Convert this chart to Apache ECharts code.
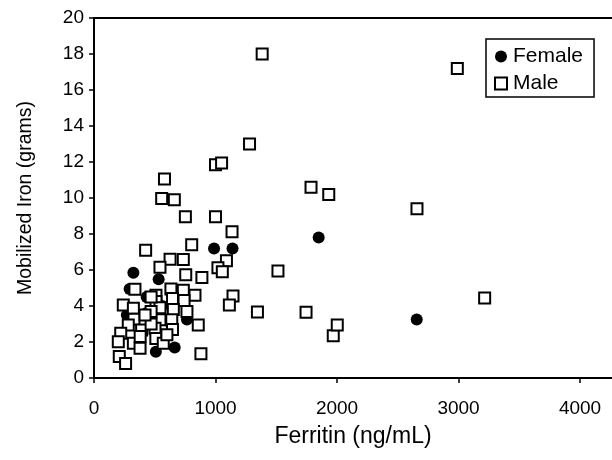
<!DOCTYPE html>
<html>
<head>
<meta charset="utf-8">
<script src="https://cdn.jsdelivr.net/npm/echarts@6/dist/echarts.min.js"></script>
<style>
html,body{margin:0;padding:0;background:#fff;}
#c{width:612px;height:460px;}
</style>
</head>
<body>
<div id="c"></div>
<script>
// ---- data ----
var femaleFerritin = [988, 1140, 1849, 2656, 324, 532, 293, 765, 509, 664, 430, 433, 270, 560];
var femaleIron     = [7.2, 7.2, 7.8, 3.25, 5.85, 5.48, 4.95, 3.25, 1.46, 1.7, 3.6, 4.5, 3.5, 4.0];

var maleFerritin = [1384, 2990, 1280, 1000, 1050, 580, 557, 661, 752, 1000, 1136, 1786, 1932, 2658,
  804, 425, 1514, 3215, 1345, 1745, 1969, 2002, 1090, 1020, 1056, 626, 735, 543, 755, 888, 1144, 1114,
  337, 880,
  510, 510, 633, 735, 831, 741, 646, 241, 324, 543, 653, 765, 329, 543, 640, 858, 282, 392, 502, 646,
  220, 200, 324, 379, 509, 570, 208, 260, 470, 470, 470, 420, 600, 380];
var maleIron = [18.0, 17.2, 13.0, 11.85, 11.95, 11.05, 9.97, 9.9, 8.96, 8.96, 8.13, 10.6, 10.2, 9.4,
  7.4, 7.1, 5.95, 4.45, 3.67, 3.65, 2.35, 2.94, 6.52, 6.12, 5.9, 6.6, 6.58, 6.15, 5.74, 5.58, 4.56, 4.05,
  4.93, 1.35,
  4.6, 4.25, 4.95, 4.87, 4.6, 4.3, 4.42, 4.05, 3.87, 3.9, 3.8, 3.69, 3.26, 3.23, 3.23, 2.94, 2.94, 2.67, 2.76, 2.7,
  2.48, 2.02, 1.93, 1.65, 2.2, 1.93, 1.19, 0.81, 4.5, 3.7, 3.0, 3.5, 2.4, 2.3];

var xTicks = [0, 1000, 2000, 3000, 4000];
var yTicks = [0, 2, 4, 6, 8, 10, 12, 14, 16, 18, 20];
var seriesNames = ['Female', 'Male'];
var xTitle = 'Ferritin (ng/mL)';
var yTitle = 'Mobilized Iron (grams)';

function pairs(xs, ys) { return xs.map(function (v, i) { return [v, ys[i]]; }); }

var FONT = 'Liberation Sans, Arial, sans-serif';
var chart = echarts.init(document.getElementById('c'), null, { renderer: 'canvas' });

chart.setOption({
  animation: false,
  backgroundColor: '#ffffff',
  grid: { left: 94, right: 0, top: 18, bottom: 82 },
  legend: {
    data: [
      { name: seriesNames[0], icon: 'circle' },
      { name: seriesNames[1], icon: 'rect' }
    ],
    orient: 'vertical',
    left: 486, top: 39,
    padding: [7, 11, 3, 8],
    itemGap: 6,
    itemWidth: 12, itemHeight: 12,
    borderColor: '#000', borderWidth: 1.5,
    backgroundColor: '#fff',
    textStyle: { fontFamily: FONT, fontSize: 21, color: '#000', padding: [0, 0, 0, 1] }
  },
  xAxis: [{
    type: 'value',
    min: xTicks[0], max: 4263, interval: 1000,
    splitLine: { show: false },
    axisLine: { onZero: false, lineStyle: { color: '#000', width: 2 } },
    axisTick: { show: true, inside: false, length: 5, lineStyle: { color: '#000', width: 1.5 } },
    axisLabel: { showMaxLabel: false, margin: 21, fontFamily: FONT, fontSize: 19, color: '#000',
      formatter: function (v) { return String(v); } },
    name: xTitle, nameLocation: 'middle', nameGap: 47,
    nameTextStyle: { fontFamily: FONT, fontSize: 23, color: '#000' }
  }, {
    type: 'value', position: 'top',
    min: xTicks[0], max: 4263, interval: 1000,
    splitLine: { show: false },
    axisLine: { onZero: false, lineStyle: { color: '#000', width: 2 } },
    axisTick: { show: false }, axisLabel: { show: false }
  }],
  yAxis: {
    type: 'value',
    min: yTicks[0], max: yTicks[yTicks.length - 1], interval: 2,
    splitLine: { show: false },
    axisLine: { show: true, onZero: false, lineStyle: { color: '#000', width: 2 } },
    axisTick: { show: true, inside: false, length: 5, lineStyle: { color: '#000', width: 1.5 } },
    axisLabel: { margin: 10, fontFamily: FONT, fontSize: 19, color: '#000' },
    name: yTitle, nameLocation: 'middle', nameGap: 58, nameRotate: 90,
    nameTextStyle: { fontFamily: FONT, fontSize: 19.5, color: '#000' }
  },
  series: [{
    name: seriesNames[0],
    type: 'scatter',
    symbol: 'circle', symbolSize: 12,
    itemStyle: { color: '#000', opacity: 1 },
    data: pairs(femaleFerritin, femaleIron),
    z: 2
  }, {
    name: seriesNames[1],
    type: 'scatter',
    symbol: 'rect', symbolSize: 11,
    itemStyle: { color: '#fff', borderColor: '#000', borderWidth: 2, opacity: 1 },
    data: pairs(maleFerritin, maleIron),
    z: 3
  }]
});
</script>
</body>
</html>
